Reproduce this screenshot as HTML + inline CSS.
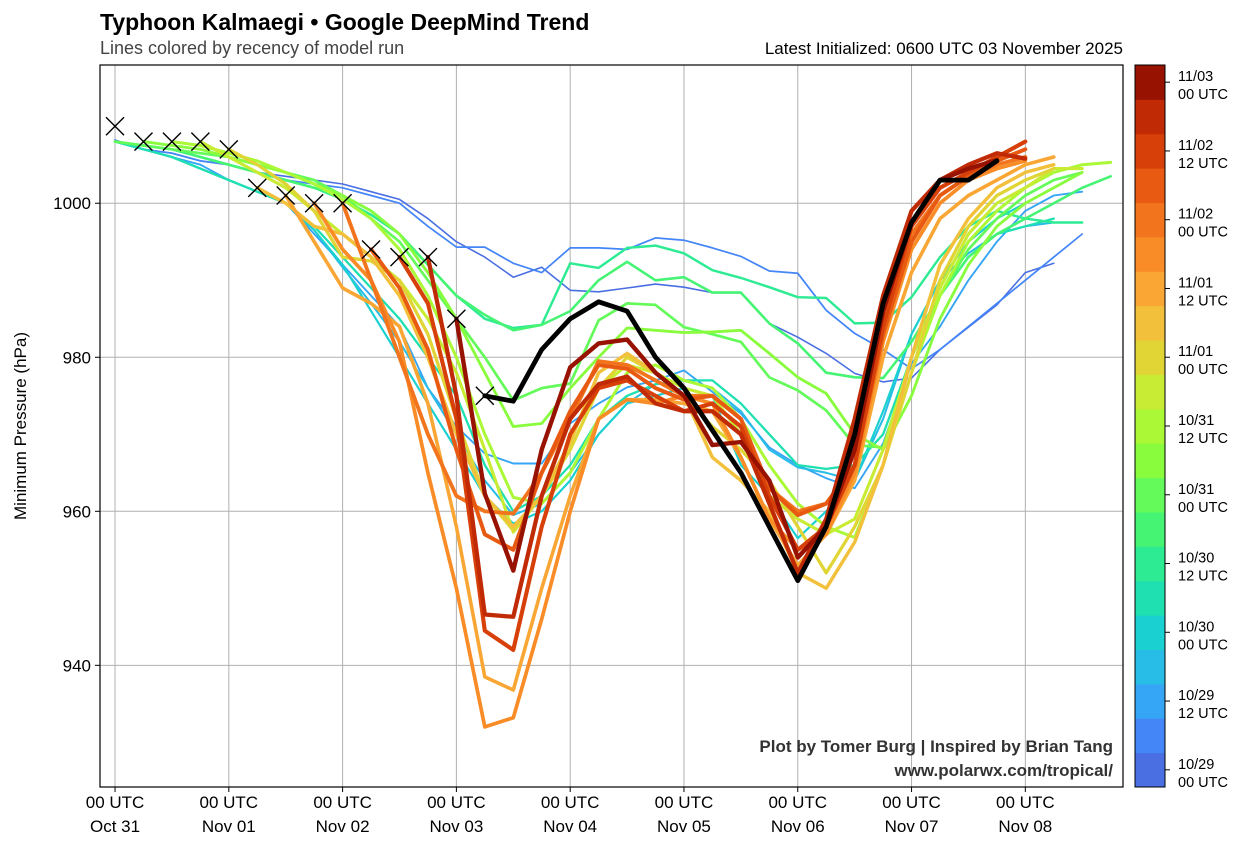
<!DOCTYPE html>
<html><head><meta charset="utf-8"><style>
html,body{margin:0;padding:0;background:#fff;}
svg text{font-family:"Liberation Sans","DejaVu Sans",sans-serif;}
</style></head><body>
<svg id="chart" width="1250" height="853" viewBox="0 0 1250 853" xmlns="http://www.w3.org/2000/svg">
<defs><clipPath id="plotclip"><rect x="100" y="65" width="1023" height="722"/></clipPath></defs>
<text x="100" y="30" font-size="23" font-weight="bold" fill="#000">Typhoon Kalmaegi • Google DeepMind Trend</text>
<text x="100" y="54" font-size="18" fill="#444">Lines colored by recency of model run</text>
<text x="1123" y="54" font-size="17" fill="#000" text-anchor="end">Latest Initialized: 0600 UTC 03 November 2025</text>
<g id="grid"></g>
<g id="series" clip-path="url(#plotclip)"></g>
<g id="obs"></g>
<rect x="100" y="65" width="1023" height="722" fill="none" stroke="#000" stroke-width="1.2"/>
<g id="axes"></g>
<text transform="translate(26,426) rotate(-90)" font-size="17" text-anchor="middle" fill="#000">Minimum Pressure (hPa)</text>
<text x="1113" y="752" font-size="17" font-weight="bold" fill="#333" text-anchor="end">Plot by Tomer Burg | Inspired by Brian Tang</text>
<text x="1113" y="776" font-size="17" font-weight="bold" fill="#333" text-anchor="end">www.polarwx.com/tropical/</text>
<g id="cbar"></g>
</svg>
<script>
const NS="http://www.w3.org/2000/svg";
// ---- data ----
const xTickHours=[0,24,48,72,96,120,144,168,192];
const xTickLine1=["00 UTC","00 UTC","00 UTC","00 UTC","00 UTC","00 UTC","00 UTC","00 UTC","00 UTC"];
const xTickLine2=["Oct 31","Nov 01","Nov 02","Nov 03","Nov 04","Nov 05","Nov 06","Nov 07","Nov 08"];
const yTicks=[940,960,980,1000];
const runColors=["#4a6fe3","#4486f7","#35a5f5","#27bde6","#1ad0d0","#1fe0b0","#2ceb92","#46f474","#64fb5a","#8afc3e","#aaf836","#c8ec33","#e0d535","#f2c03a","#f9a634","#f98c26","#f2741c","#e85a12","#d8400a","#c02a04","#981202"];
const runFirstHour=[0,0,0,0,0,0,0,0,0,6,12,18,24,30,36,42,48,54,60,66,72];
const run00=[1008.2,1007,1006.5,1005.5,1005,1004,1003.5,1003,1002.5,1001.5,1000.5,998,995,993,990.4,991.7,988.7,988.5,989,989.5,989.1,988.4,988.4,984.4,982.6,980.5,977.9,976.8,977.3,981,983.9,986.8,991,992.2];
const run01=[1008.2,1007,1006.5,1005.5,1005,1004,1003,1002.5,1002,1001,1000,997,994.3,994.3,992.2,991,994.2,994.2,994,995.5,995.2,994.2,993.1,991.2,990.9,986.1,983.1,981,978.5,981,984,987,990,993,996];
const run02=[1008,1007,1006,1005,1003,1001.5,1000,996,992,988,984,976,971,967.5,966.2,966.2,971.4,974,976.1,977,978.3,975.5,972.7,968.3,966,964.3,963,968.8,979.2,984,990,995,999,1001,1001.5];
const run03=[1008,1007,1006,1004.5,1003,1001.5,1000,996.5,991.7,987,982,976,970,964,959.5,961,965,970,974,976.5,977,976,973,968,965.7,965,964,972,983,990,993.5,996,997,997.5];
const run04=[1008,1007,1006,1004.5,1003,1001.5,1000,996.5,992,986,980,974,968,962,958.4,960,964,970,974,975,976,975,966,962,956.5,960,964,973,983,990,995,998,1000];
const run05=[1008,1007,1006,1004.5,1003,1001.5,1000,997,993,989,985,980,975,966,960,962,966,972,975,976.5,977,977,974,970,966,965.5,966,970,980,988,993,996,997,998];
const run06=[1008,1007.5,1007,1006,1005,1004,1003,1002,1000.5,998.5,996,992,988,985,983.8,984.2,992.2,991.6,994.2,994.5,993.5,991.3,990.3,989.1,987.8,987.7,984.4,984.5,987.8,993,997,999,998,997.5,997.5];
const run07=[1008,1007.5,1007,1006,1005,1004,1003,1002,1001,999,996,992,988,985.5,983.5,984.2,986,990,992.4,990,990.4,988.4,988.4,984.4,981.8,978,977.4,977.3,982,988,993,996,998,1000,1002,1003.5];
const run08=[1008,1007.5,1007,1006.5,1006,1005,1004,1003,1001,998,995,990,985,980,974.4,976,976.6,984.8,987,986.8,983.9,983,982,977.4,975.7,973.1,968.6,968.3,980,988,994,998,1001,1003,1004];
const run09=[1008,1007.5,1007,1006,1005,1004,1002.5,1001,999,996,991,985,978,971,971.4,976,980,983.8,983.5,983.2,983.3,983.5,980.5,977.4,975.3,970,968,975,985,992,997,1000,1002,1004];
const run10=[1008,1007.5,1006.5,1005.5,1004,1002.5,1000.5,998,994,988,980,970,961.8,961,965,972,978,979,977,976,972,966,961,958,956.6,966,978,988,995,999,1002,1004,1005,1005.3];
const run11=[1008,1006,1004,1002,999,996,993,990,985,978,968,957.3,962,968,976,979,978,976,975,970,962,959,957,959,968,980,989,996,1000,1002,1004.5,1004.5];
const run12=[1007,1005,1002.5,999,993,992.5,990,983,972,962,957.5,962,968,976,980,978,975,971,968,964,958,952,958,966,978,990,997,1001,1003,1004.5];
const run13=[1002,1000,997,996,993,988,980,970,962,958,962,969,978,980.5,978,975,967,964,960,952,950,956,966,980,992,998,1002,1004,1005];
const run14=[1001,995,989,987,984,974,958,938.5,936.8,950,962,972,974.5,974.5,974,973,967,959,953,957,964,980,991,998,1001,1003,1005,1006];
const run15=[1000,994,990,982,965,950,932,933.2,946,960,972,974.5,974,975,974,967,959,955,957,965,982,994,1000,1003,1004.5,1005.5];
const run16=[1000,990,980,970,962,960,959.7,965,972,979.5,979,977,975,975,972,963,960,961,966,984,996,1001,1003.5,1005,1006];
const run17=[994,989,981,968,957,955,965,973,979,978.5,976,974.5,975,972,963,959.5,961,966,983,995,1001,1003.5,1005.5,1007];
const run18=[993,987,972,944.5,942,958,970,976,977,975,973,974,971,962,955,958,966,984,997,1002,1004,1006,1008];
const run19=[993,975,946.6,946.3,962,972,976.5,977.5,974,973,973,970,961,952,959,972,988,999,1003,1005,1006.5,1005.8];
const run20=[985,962.3,952.3,968,978.7,981.8,982.3,978,975,968.6,969,964,954,958,968,986,997.5,1003,1004.5,1005.6];
const latestFirstHour=78;
const latestRun=[975,974.3,981,985,987.2,986,980,976,970.5,965,958,951,958,970,987,997.5,1003,1003,1005.5];
const obsHours=[0,6,12,18,24,30,36,42,48,54,60,66,72,78];
const obsValues=[1010,1008,1008,1008,1007,1002,1001,1000,1000,994,993,993,985,975];
const cbarLabels1=["10/29","10/29","10/30","10/30","10/31","10/31","11/01","11/01","11/02","11/02","11/03"];
const cbarLabels2=["00 UTC","12 UTC","00 UTC","12 UTC","00 UTC","12 UTC","00 UTC","12 UTC","00 UTC","12 UTC","00 UTC"];
const runs=[run00,run01,run02,run03,run04,run05,run06,run07,run08,run09,run10,run11,run12,run13,run14,run15,run16,run17,run18,run19,run20];
// ---- axes ----
const X0=100,X1=1123,Y0=65,Y1=787;
const hMin=-3.17,hMax=212.6, pMin=924.2,pMax=1017.95;
function xs(h){return X0+(h-hMin)/(hMax-hMin)*(X1-X0);}
function ys(p){return Y1-(p-pMin)/(pMax-pMin)*(Y1-Y0);}
function mk(tag,attrs,parent){const e=document.createElementNS(NS,tag);for(const k in attrs)e.setAttribute(k,attrs[k]);parent.appendChild(e);return e;}
const grid=document.getElementById('grid'),axes=document.getElementById('axes');
xTickHours.forEach((h,i)=>{
  const l=mk('line',{x1:xs(h),x2:xs(h),y1:Y0,y2:Y1,stroke:'#b0b0b0','stroke-width':1},grid);
  
  
  const t=mk('line',{x1:xs(h),x2:xs(h),y1:Y1,y2:Y1+5,stroke:'#000'},axes);
  
  
  const a=mk('text',{x:xs(h),y:808,'font-size':17,'text-anchor':'middle'},axes);a.textContent=xTickLine1[i];
  
  
  const b=mk('text',{x:xs(h),y:832,'font-size':17,'text-anchor':'middle'},axes);b.textContent=xTickLine2[i];
  
  
});
yTicks.forEach(p=>{
  const l=mk('line',{x1:X0,x2:X1,y1:ys(p),y2:ys(p),stroke:'#b0b0b0','stroke-width':1},grid);
  
  
  const t=mk('line',{x1:X0-5,x2:X0,y1:ys(p),y2:ys(p),stroke:'#000'},axes);
  
  
  const a=mk('text',{x:X0-9,y:ys(p)+6,'font-size':17,'text-anchor':'end'},axes);a.textContent=p;
  
  
});
// ---- series ----
const series=document.getElementById('series');
function pathFor(first,vals){return vals.map((v,i)=>(i?'L':'M')+xs(first+6*i).toFixed(1)+','+ys(v).toFixed(1)).join(' ');}
runs.forEach((vals,i)=>{
  const p=mk('path',{d:pathFor(runFirstHour[i],vals),fill:'none',stroke:runColors[i],'stroke-width':(1.6+i*0.14).toFixed(2),'stroke-linejoin':'round','stroke-linecap':'round'},series);
  
  
});
const lp=mk('path',{d:pathFor(latestFirstHour,latestRun),fill:'none',stroke:'#000','stroke-width':4.8,'stroke-linejoin':'round','stroke-linecap':'round'},series);


const obs=document.getElementById('obs');
obsHours.forEach((h,i)=>{
  const cx=xs(h),cy=ys(obsValues[i]),r=9;
  const g=mk('path',{d:`M${cx-r},${cy-r}L${cx+r},${cy+r}M${cx-r},${cy+r}L${cx+r},${cy-r}`,stroke:'#000','stroke-width':1.4,fill:'none'},obs);
  
  
});
// ---- colorbar ----
const cb=document.getElementById('cbar');
const CX=1135,CW=30,segH=(Y1-Y0)/runColors.length;
runColors.forEach((c,i)=>{
  const r=mk('rect',{x:CX,y:Y1-(i+1)*segH,width:CW,height:segH+0.5,fill:c},cb);
  
  
});
const fr=mk('rect',{x:CX,y:Y0,width:CW,height:Y1-Y0,fill:'none',stroke:'#000','stroke-width':1},cb);


cbarLabels1.forEach((t,j)=>{
  const cy=Y1-(2*j+0.5)*segH;
  const tk=mk('line',{x1:CX+CW,x2:CX+CW+5,y1:cy,y2:cy,stroke:'#000'},cb);
  
  
  const a=mk('text',{x:1178,y:cy-1,'font-size':14.5},cb);a.textContent=t;
  
  
  const b=mk('text',{x:1178,y:cy+17,'font-size':14.5},cb);b.textContent=cbarLabels2[j];
  
  
});
</script>
</body></html>
